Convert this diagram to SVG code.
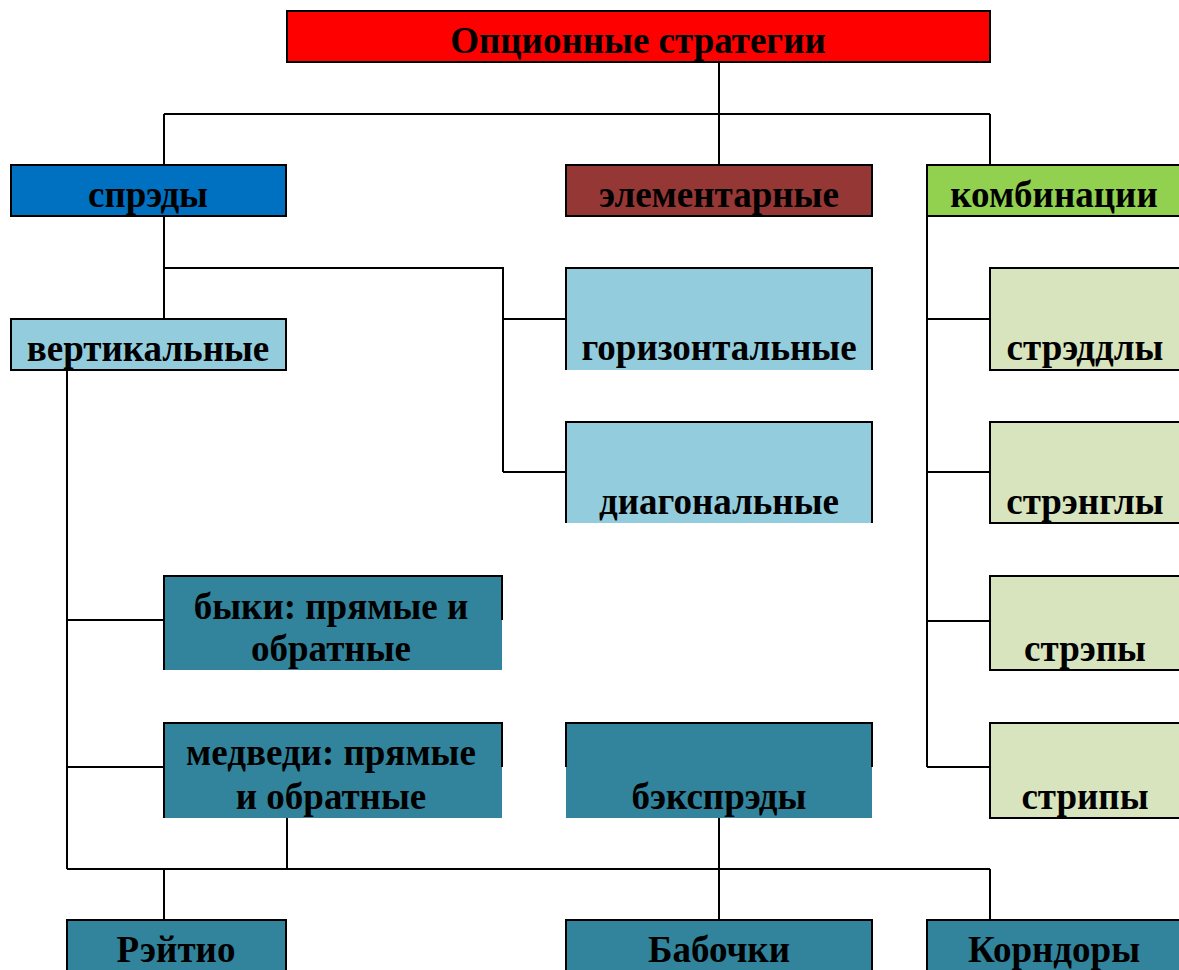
<svg xmlns="http://www.w3.org/2000/svg" width="1179" height="970" viewBox="0 0 1179 970">
<style>
.t{font-family:"Liberation Serif","Times New Roman",serif;font-weight:bold;font-size:37px;fill:#000;text-anchor:middle}
.b{stroke:#000;stroke-width:2}
.e{fill:none;stroke:#000;stroke-width:2}
.c{fill:none;stroke:#000;stroke-width:2}
</style>
<rect width="1179" height="970" fill="#fff"/>
<g id="connectors" class="c">
<path d="M719 62V165M164 114H990M164 114V165M990 114V165"/>
<path d="M164 216V319M164 268H503V472M503 319H566M503 472H566"/>
<path d="M927 216V767M927 319H990M927 472H990M927 621H990M927 767H990"/>
<path d="M67 370V869M67 620H164M67 767H164"/>
<path d="M67 869H990M287 818V869M719 818V920M164 869V920M990 869V920"/>
</g>
<g id="root"><rect x="287" y="11" width="703" height="51" fill="#FF0000" class="b"/><text class="t" x="638" y="53">Опционные стратегии</text></g>
<g id="spreads"><rect x="11" y="165" width="275" height="51" fill="#0070C0" class="b"/><text class="t" x="148" y="207">спрэды</text></g>
<g id="elementary"><rect x="566" y="165" width="306" height="51" fill="#953735" class="b"/><text class="t" x="719" y="207">элементарные</text></g>
<g id="combinations"><rect x="927" y="165" width="254" height="51" fill="#92D050" class="b"/><text class="t" x="1054" y="207">комбинации</text></g>
<g id="vertical"><rect x="11" y="319" width="275" height="51" fill="#93CDDD" class="b"/><text class="t" x="148" y="361">вертикальные</text></g>
<g id="horizontal"><rect x="566" y="268" width="306" height="102" fill="#93CDDD"/><path class="e" d="M566 370V268H872V370"/><text class="t" x="719" y="360">горизонтальные</text></g>
<g id="diagonal"><rect x="566" y="422" width="306" height="101" fill="#93CDDD"/><path class="e" d="M566 523V422H872V523"/><text class="t" x="719" y="514">диагональные</text></g>
<g id="straddles"><rect x="990" y="268" width="191" height="102" fill="#D7E4BD" class="b"/><text class="t" x="1085" y="360">стрэддлы</text></g>
<g id="strangles"><rect x="990" y="422" width="191" height="101" fill="#D7E4BD" class="b"/><text class="t" x="1085" y="514">стрэнглы</text></g>
<g id="straps"><rect x="990" y="576" width="191" height="94" fill="#D7E4BD" class="b"/><text class="t" x="1085" y="661">стрэпы</text></g>
<g id="strips"><rect x="990" y="723" width="191" height="95" fill="#D7E4BD" class="b"/><text class="t" x="1085" y="809">стрипы</text></g>
<g id="bulls"><rect x="164" y="576" width="338" height="94" fill="#31849B"/><path class="e" d="M164 670V576H502V620"/><text class="t" x="331" y="619">быки: прямые и</text><text class="t" x="331" y="661">обратные</text></g>
<g id="bears"><rect x="164" y="723" width="338" height="95" fill="#31849B"/><path class="e" d="M164 818V723H502V767"/><text class="t" x="331" y="765">медведи: прямые</text><text class="t" x="331" y="809">и обратные</text></g>
<g id="backspreads"><rect x="566" y="723" width="306" height="95" fill="#31849B"/><path class="e" d="M566 767V723H872V767"/><text class="t" x="719" y="809">бэкспрэды</text></g>
<g id="ratio"><rect x="67" y="920" width="219" height="60" fill="#31849B" class="b"/><text class="t" x="176" y="962">Рэйтио</text></g>
<g id="butterflies"><rect x="566" y="920" width="306" height="60" fill="#31849B" class="b"/><text class="t" x="719" y="962">Бабочки</text></g>
<g id="condors"><rect x="927" y="920" width="254" height="60" fill="#31849B" class="b"/><text class="t" x="1054" y="962">Корндоры</text></g>
</svg>
